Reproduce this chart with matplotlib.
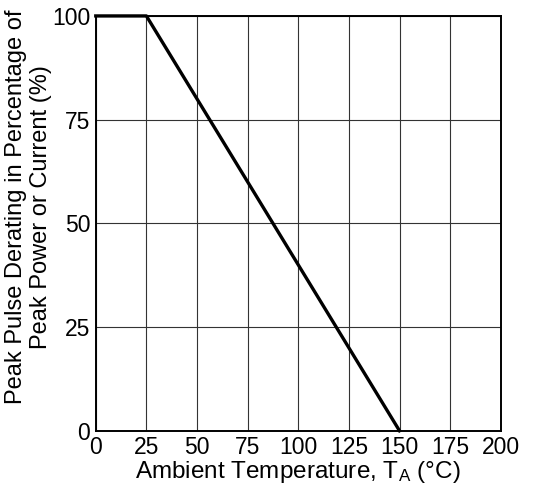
import matplotlib.pyplot as plt
import numpy as np

# derating curve
temp = [0, 25, 150]
derating = [100, 100, 0]

x_ticks = [0, 25, 50, 75, 100, 125, 150, 175, 200]
y_ticks = [0, 25, 50, 75, 100]

plt.rcParams['font.family'] = ['Liberation Sans', 'DejaVu Sans']
plt.rcParams['mathtext.fontset'] = 'custom'
plt.rcParams['mathtext.rm'] = 'Liberation Sans'
plt.rcParams['mathtext.it'] = 'Liberation Sans:italic'
plt.rcParams['mathtext.bf'] = 'Liberation Sans:bold'

fig = plt.figure(figsize=(5.35, 4.98), dpi=100)
ax = fig.add_axes([0.179, 0.135, 0.757, 0.833])

ax.plot(temp, derating, color='black', linewidth=2.4, clip_on=False, zorder=3)

ax.set_xlim(0, 200)
ax.set_ylim(0, 100)
ax.set_xticks(x_ticks)
ax.set_yticks(y_ticks)
ax.tick_params(length=0, labelsize=16.5, pad=4)
ax.grid(True, color='#333333', linewidth=0.8)
for s in ax.spines.values():
    s.set_linewidth(1.4)
    s.set_color('black')

ax.set_xlabel("Ambient Temperature, T$_\\mathregular{A}$ (\u00b0C)", fontsize=17.5, labelpad=0)
ax.set_ylabel("Peak Pulse Derating in Percentage of\nPeak Power or Current (%)", fontsize=17,
              linespacing=1.2)
ax.yaxis.set_label_coords(-0.107, 0.54)

plt.savefig("out.png", dpi=100)
